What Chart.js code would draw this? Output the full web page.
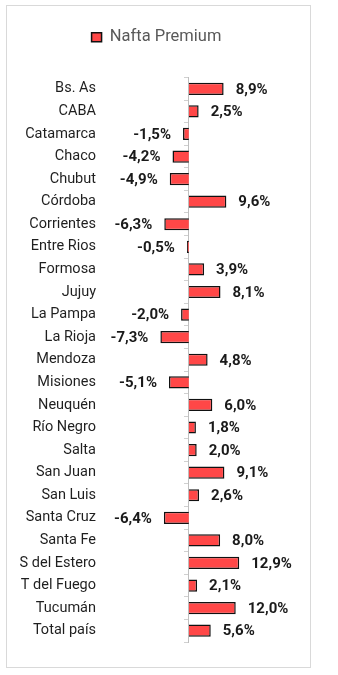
<!DOCTYPE html>
<html>
<head>
<meta charset="utf-8">
<script src="https://cdn.jsdelivr.net/npm/chart.js@4/dist/chart.umd.min.js"></script>
<style>
  html, body { margin:0; padding:0; background:#fff; }
  #frame { position:absolute; left:6px; top:5px; width:303px; height:661px; border:1px solid #d9d9d9; }
  #chart { display:block; }
</style>
</head>
<body>
<div id="frame"><canvas id="chart" width="303" height="661"></canvas></div>
<script>
  // provincias y variación (%)
  const provincias = ["Bs. As","CABA","Catamarca","Chaco","Chubut","Córdoba","Corrientes","Entre Rios",
    "Formosa","Jujuy","La Pampa","La Rioja","Mendoza","Misiones","Neuquén","Río Negro","Salta",
    "San Juan","San Luis","Santa Cruz","Santa Fe","S del Estero","T del Fuego","Tucumán","Total país"];
  const naftaPremium = [8.9, 2.5, -1.5, -4.2, -4.9, 9.6, -6.3, -0.5, 3.9, 8.1, -2.0, -7.3, 4.8, -5.1,
    6.0, 1.8, 2.0, 9.1, 2.6, -6.4, 8.0, 12.9, 2.1, 12.0, 5.6];
  const serieNombre = "Nafta Premium";

  const FONT = "Roboto, 'Liberation Sans', Arial, sans-serif";
  const fmt = v => v.toFixed(1).replace(".", ",") + "%";

  // etiquetas de valor al final de cada barra
  const valueLabels = {
    id: "valueLabels",
    afterDatasetsDraw(chart){
      const ctx = chart.ctx;
      const meta = chart.getDatasetMeta(0);
      ctx.save();
      ctx.font = "bold 15px " + FONT;
      ctx.fillStyle = "#1a1a1a";
      ctx.textBaseline = "middle";
      meta.data.forEach((bar, i) => {
        const v = naftaPremium[i];
        if(v >= 0){ ctx.textAlign = "left"; ctx.fillText(fmt(v), bar.x + 12, bar.y + 1); }
        else { ctx.textAlign = "right"; ctx.fillText(fmt(v), bar.x - 12, bar.y + 1); }
      });
      ctx.restore();
    }
  };

  // espacio extra debajo de la leyenda
  const legendGap = {
    id: "legendGap",
    beforeInit(chart){
      const fit = chart.legend.fit;
      chart.legend.fit = function(){ fit.bind(chart.legend)(); this.height += 22; };
    }
  };

  new Chart(document.getElementById("chart"), {
    type: "bar",
    data: {
      labels: provincias,
      datasets: [{
        label: serieNombre, data: naftaPremium,
        backgroundColor: "#ff4747", borderColor: "#111", borderWidth: 1.5,
        barPercentage: 0.54, categoryPercentage: 1
      }]
    },
    options: {
      indexAxis: "y", responsive: false, animation: false,
      layout: { padding: { top: 13, right: 4, bottom: 25, left: 0 } },
      plugins: {
        legend: {
          position: "top",
          labels: { boxWidth: 10, boxHeight: 9, padding: 10, color: "#595959", font: { family: FONT, size: 16.5 } }
        },
        tooltip: { enabled: false }
      },
      scales: {
        x: { display: false, min: -22, max: 30 },
        y: {
          position: "left", offset: true,
          grid: { display: false, drawTicks: false }, border: { display: false },
          ticks: { color: "#1f1f1f", padding: 7, font: { family: FONT, size: 14.5 } },
          afterFit(s){ s.width = 96; }
        },
        y2: {
          type: "category", position: { x: 0 }, offset: true,
          grid: { offset: true, drawOnChartArea: false, tickLength: 4, color: "#d0d0d0" },
          border: { color: "#bfbfbf", width: 1 },
          ticks: { display: false },
          afterFit(s){ s.width = 0; }
        }
      }
    },
    plugins: [valueLabels, legendGap]
  });
</script>
</body>
</html>
